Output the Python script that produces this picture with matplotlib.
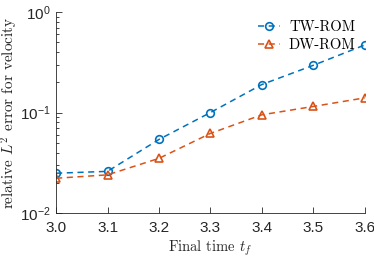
import matplotlib
matplotlib.use("Agg")
from matplotlib import pyplot as plt
import numpy as np

# data
tf = [3.0, 3.1, 3.2, 3.3, 3.4, 3.5, 3.6]
tw_rom = [0.0249, 0.026, 0.054, 0.100, 0.19, 0.295, 0.47]
dw_rom = [0.0222, 0.024, 0.035, 0.062, 0.095, 0.115, 0.14]
xticks = [3.0, 3.1, 3.2, 3.3, 3.4, 3.5, 3.6]

plt.rcParams['mathtext.fontset'] = 'cm'
plt.rcParams['axes.formatter.use_mathtext'] = True
blue = "#0072BD"
orange = "#D95319"
axcol = "#262626"
serif = "cmr10"

fig = plt.figure(figsize=(3.74, 2.57), dpi=100)
ax = fig.add_axes([0.15, 0.171, 0.825, 0.782])

ax.plot(tf, tw_rom, "--o", color=blue, mfc="none", ms=5.5, mew=1.2, lw=1.1,
        dashes=(4, 3), label="TW-ROM")
ax.plot(tf, dw_rom, "--^", color=orange, mfc="none", ms=5.5, mew=1.2, lw=1.1,
        dashes=(4, 3), label="DW-ROM")

ax.set_yscale("log")
ax.set_xlim(3.0, 3.6)
ax.set_ylim(1e-2, 1e0)
ax.set_xticks(xticks)
ax.set_xticklabels(["%.1f" % t for t in xticks])

for s in ["top", "right"]:
    ax.spines[s].set_visible(False)
for s in ["left", "bottom"]:
    ax.spines[s].set_color(axcol)
    ax.spines[s].set_linewidth(0.6)
ax.tick_params(which="both", direction="in", colors=axcol, labelsize=11,
               labelfontfamily="Liberation Sans", width=0.6)
ax.tick_params(which="major", length=4)
ax.tick_params(which="minor", length=2)
ax.tick_params(axis="x", pad=6)
ax.tick_params(axis="y", pad=4)

ax.set_xlabel("Final time $t_f$", family=serif, fontsize=10.5,
              color=axcol, labelpad=2)
ax.set_ylabel("relative $L^2$ error for velocity", family=serif,
              fontsize=11, color=axcol)
ax.yaxis.set_label_coords(-0.118, 0.5)

leg = ax.legend(loc="upper right", frameon=False,
                prop={"family": serif, "size": 10.5},
                handlelength=1.5, handletextpad=0.6, borderaxespad=0.0,
                labelspacing=0.35, bbox_to_anchor=(0.99, 0.99))

fig.savefig("out.png", dpi=100)
